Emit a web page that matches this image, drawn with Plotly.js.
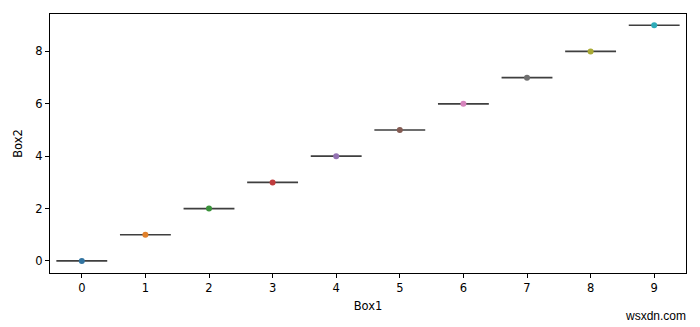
<!DOCTYPE html>
<html>
<head>
<meta charset="utf-8">
<script src="https://cdn.plot.ly/plotly-3.0.1.min.js"></script>
<style>html,body{margin:0;padding:0;background:#fff;}#chart{width:700px;height:327px;}</style>
</head>
<body>
<div id="chart"></div>
<script>
const categories = [0, 1, 2, 3, 4, 5, 6, 7, 8, 9];
const box2Values = [0, 1, 2, 3, 4, 5, 6, 7, 8, 9];
const pointColors = ['#3274a1','#e1812c','#3a923a','#c03d3e','#9372b2','#845b53','#d684bd','#6f6f6f','#a9aa35','#2eabb8'];
const tickLabels = ['0','1','2','3','4','5','6','7','8','9'];
const yTicks = [0, 2, 4, 6, 8];

const boxTrace = {
  type: 'box',
  x: categories,
  y: box2Values,
  width: 0.8,
  boxpoints: false,
  whiskerwidth: 0,
  line: {color: '#3f3f3f', width: 1.7},
  fillcolor: 'rgba(0,0,0,0)',
  hoverinfo: 'skip',
  showlegend: false
};
const pointTrace = {
  type: 'scatter',
  mode: 'markers',
  x: categories,
  y: box2Values,
  marker: {color: pointColors, size: 6, line: {width: 0}},
  hoverinfo: 'skip',
  showlegend: false
};

const font = {family: 'DejaVu Sans, sans-serif', size: 11.5, color: '#000'};
const layout = {
  width: 700, height: 327,
  margin: {l: 50, r: 14, t: 14, b: 54},
  paper_bgcolor: '#fff', plot_bgcolor: '#fff',
  font: font,
  showlegend: false,
  xaxis: {
    range: [-0.5, 9.5], tickmode: 'array', tickvals: categories, ticktext: tickLabels,
    showgrid: false, zeroline: false, showline: true, mirror: true, linecolor: '#000', linewidth: 1,
    ticks: 'outside', ticklen: 4, tickcolor: '#000', tickfont: font,
    title: {text: 'Box1', font: font, standoff: 8}
  },
  yaxis: {
    range: [-0.46, 9.43], tickmode: 'array', tickvals: yTicks, ticktext: yTicks.map(String),
    showgrid: false, zeroline: false, showline: true, mirror: true, linecolor: '#000', linewidth: 1,
    ticks: 'outside', ticklen: 4, tickcolor: '#000', tickfont: font,
    title: {text: 'Box2', font: font, standoff: 10}
  },
  annotations: [{
    text: 'wsxdn.com', xref: 'paper', yref: 'paper', x: 1.0, y: 0, xshift: 2, yshift: -43,
    xanchor: 'right', yanchor: 'middle', showarrow: false,
    font: {family: 'Liberation Sans, Arial, sans-serif', size: 12, color: '#000'}
  }]
};
Plotly.newPlot('chart', [boxTrace, pointTrace], layout, {displayModeBar: false, staticPlot: true});
</script>
</body>
</html>
